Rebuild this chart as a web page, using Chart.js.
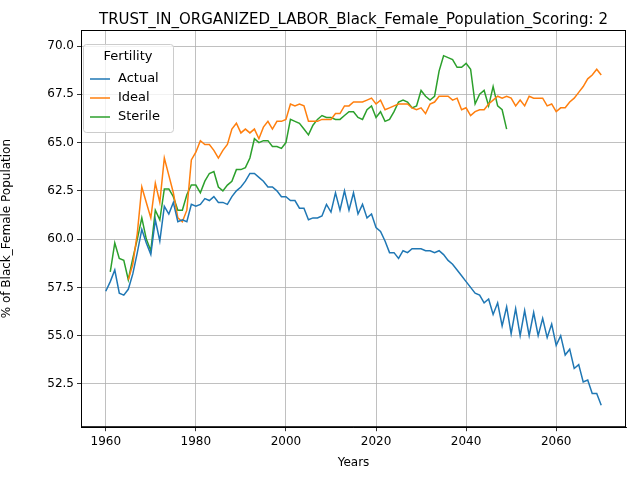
<!DOCTYPE html>
<html>
<head>
<meta charset="utf-8">
<script src="https://cdn.jsdelivr.net/npm/chart.js@4"></script>
<style>
  body { margin: 0; background: #fff; }
  #wrap { width: 640px; height: 480px; }
</style>
</head>
<body>
<div id="wrap"><canvas id="chart" width="640" height="480"></canvas></div>
<script>
const chartTitle = 'TRUST_IN_ORGANIZED_LABOR_Black_Female_Population_Scoring: 2';
const xTicks = [1960, 1980, 2000, 2020, 2040, 2060];
const yTicks = [52.5, 55.0, 57.5, 60.0, 62.5, 65.0, 67.5, 70.0];

const actualStart = 1960;
const actual = [57.3, 57.8, 58.4, 57.2, 57.1, 57.4, 58.2, 59.3, 60.5, 59.8,
  59.2, 61.0, 59.9, 61.7, 61.3, 61.9, 60.9, 61.0, 60.9, 61.8,
  61.7, 61.8, 62.1, 62.0, 62.2, 61.9, 61.9, 61.8, 62.2, 62.5,
  62.7, 63.0, 63.4, 63.4, 63.2, 63.0, 62.7, 62.7, 62.5, 62.2,
  62.2, 62.0, 62.0, 61.6, 61.6, 61.0, 61.1, 61.1, 61.2, 61.8,
  61.4, 62.4, 61.5, 62.5, 61.5, 62.4, 61.3, 61.8, 61.1, 61.3,
  60.6, 60.4, 59.9, 59.3, 59.3, 59.0, 59.4, 59.3, 59.5, 59.5,
  59.5, 59.4, 59.4, 59.3, 59.4, 59.2, 58.9, 58.7, 58.4, 58.1,
  57.8, 57.5, 57.2, 57.1, 56.7, 56.9, 56.1, 56.7, 55.5, 56.5,
  55.1, 56.4, 55.0, 56.3, 55.0, 56.2, 55.0, 55.9, 54.9, 55.6,
  54.5, 55.0, 54.0, 54.3, 53.3, 53.5, 52.6, 52.7, 52.0, 52.0, 51.4];

const idealStart = 1965;
const ideal = [57.9, 58.7, 60.3, 62.7, 61.9,
  61.1, 62.9, 61.9, 64.2, 63.3, 62.4, 61.1, 60.9, 61.5, 64.1,
  64.5, 65.1, 64.9, 64.9, 64.6, 64.2, 64.6, 64.9, 65.7, 66.0,
  65.5, 65.7, 65.5, 65.7, 65.2, 65.8, 66.1, 65.7, 66.1, 66.1,
  66.2, 67.0, 66.9, 67.0, 66.9, 66.1, 66.1, 66.1, 66.2, 66.2,
  66.2, 66.5, 66.5, 66.9, 66.9, 67.1, 67.1, 67.1, 67.2, 67.3,
  67.0, 67.2, 66.7, 66.8, 66.9, 67.0, 67.0, 67.0, 66.8, 66.7,
  66.8, 66.5, 67.0, 67.1, 67.4, 67.4, 67.4, 67.2, 67.3, 66.7,
  66.8, 66.4, 66.6, 66.7, 66.7, 67.0, 67.2, 67.4, 67.3, 67.4,
  67.3, 66.9, 67.2, 66.9, 67.4, 67.3, 67.3, 67.3, 66.9, 67.0,
  66.6, 66.8, 66.8, 67.1, 67.3, 67.6, 67.9, 68.3, 68.5, 68.8, 68.5];

const sterileStart = 1961;
const sterile = [58.3, 59.8, 59.0, 58.9, 57.9, 59.0, 60.0, 61.1, 60.0,
  59.4, 61.5, 61.0, 62.6, 62.6, 62.2, 61.5, 61.5, 62.3, 62.8,
  62.8, 62.4, 63.0, 63.4, 63.5, 62.7, 62.5, 62.8, 63.0, 63.6,
  63.6, 63.7, 64.2, 65.2, 65.0, 65.1, 65.1, 64.8, 64.8, 64.7,
  65.0, 66.2, 66.1, 66.0, 65.7, 65.4, 65.9, 66.2, 66.4, 66.3,
  66.3, 66.2, 66.2, 66.4, 66.6, 66.6, 66.3, 66.2, 66.7, 66.9,
  66.3, 66.6, 66.1, 66.2, 66.6, 67.1, 67.2, 67.1, 66.8, 66.9,
  67.7, 67.4, 67.2, 67.4, 68.7, 69.5, 69.4, 69.3, 68.9, 68.9,
  69.1, 68.8, 67.0, 67.5, 67.7, 66.9, 67.9, 66.9, 66.7, 65.7];

const toPoints = (start, arr) => arr.map((v, i) => ({ x: start + i, y: v }));

const font = { family: 'DejaVu Sans', size: 12 };

// matplotlib style title centred over the plot area, plus the full axes box
const titlePlugin = {
  id: 'mplTitle',
  afterDraw(chart) {
    const { ctx, chartArea } = chart;
    ctx.save();
    ctx.strokeStyle = '#000';
    ctx.lineWidth = 1;
    ctx.strokeRect(chartArea.left + 0.5, chartArea.top + 0.5,
      chartArea.right - chartArea.left - 1, chartArea.bottom - chartArea.top - 1);
    ctx.fillStyle = '#000';
    ctx.textAlign = 'center';
    ctx.textBaseline = 'alphabetic';
    ctx.font = '15px "DejaVu Sans"';
    ctx.fillText(chartTitle, (chartArea.left + chartArea.right) / 2, 24);
    ctx.restore();
  }
};

// legend box in upper left, like loc='upper left'
const legendPlugin = {
  id: 'mplLegend',
  afterDraw(chart) {
    const { ctx, chartArea } = chart;
    const x = chartArea.left + 2, y = chartArea.top + 14;
    const w = 90, h = 88;
    ctx.save();
    ctx.fillStyle = 'rgba(255,255,255,0.8)';
    ctx.strokeStyle = '#cccccc';
    ctx.lineWidth = 1;
    ctx.beginPath();
    ctx.roundRect(x + 0.5, y + 0.5, w, h, 3);
    ctx.fill();
    ctx.stroke();
    ctx.fillStyle = '#000';
    ctx.font = '13px "DejaVu Sans"';
    ctx.textAlign = 'center';
    ctx.textBaseline = 'middle';
    ctx.fillText('Fertility', x + w / 2, y + 13);
    ctx.textAlign = 'left';
    chart.data.datasets.forEach((ds, i) => {
      const ly = y + 35 + i * 19;
      ctx.strokeStyle = ds.borderColor;
      ctx.lineWidth = 1.5;
      ctx.beginPath();
      ctx.moveTo(x + 7, ly);
      ctx.lineTo(x + 27, ly);
      ctx.stroke();
      ctx.fillText(ds.label, x + 35, ly);
    });
    ctx.restore();
  }
};

new Chart(document.getElementById('chart'), {
  type: 'line',
  data: {
    datasets: [
      { label: 'Actual', data: toPoints(actualStart, actual), borderColor: '#1f77b4' },
      { label: 'Ideal', data: toPoints(idealStart, ideal), borderColor: '#ff7f0e' },
      { label: 'Sterile', data: toPoints(sterileStart, sterile), borderColor: '#2ca02c' }
    ].map(d => Object.assign(d, { borderWidth: 1.5, pointRadius: 0, fill: false, tension: 0 }))
  },
  options: {
    responsive: false,
    animation: false,
    layout: { padding: { top: 30, right: 14, left: 0, bottom: 2 } },
    plugins: { legend: { display: false }, title: { display: false }, tooltip: { enabled: false } },
    scales: {
      x: {
        type: 'linear', min: 1954.5, max: 2075.5,
        afterBuildTicks: s => { s.ticks = xTicks.map(v => ({ value: v })); },
        ticks: { color: '#000', font: font, maxRotation: 0, padding: 3, callback: v => String(v) },
        grid: { color: '#b0b0b0', lineWidth: 0.8, tickLength: 4, tickColor: '#000' },
        border: { color: '#000', width: 1 },
        title: { display: true, text: 'Years', color: '#000', font: font, padding: { top: 4, bottom: 8 } }
      },
      y: {
        min: 50.26, max: 70.83,
        afterBuildTicks: s => { s.ticks = yTicks.map(v => ({ value: v })); },
        afterFit: s => { s.width = 81; },
        ticks: { color: '#000', font: font, padding: 3, callback: v => v.toFixed(1) },
        grid: { color: '#b0b0b0', lineWidth: 0.8, tickLength: 4, tickColor: '#000' },
        border: { color: '#000', width: 1 },
        title: { display: true, text: '% of Black_Female Population', color: '#000', font: font, padding: { top: 0, bottom: 0 } }
      }
    }
  },
  plugins: [titlePlugin, legendPlugin]
});
</script>
</body>
</html>
